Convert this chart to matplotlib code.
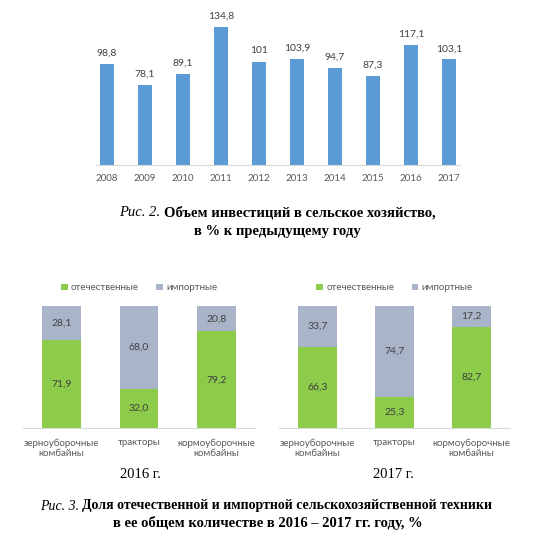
import matplotlib
matplotlib.use("Agg")
import matplotlib.pyplot as plt

years = ["2008", "2009", "2010", "2011", "2012", "2013", "2014", "2015", "2016", "2017"]
invest = [98.8, 78.1, 89.1, 134.8, 101, 103.9, 94.7, 87.3, 117.1, 103.1]
invest_labels = ["98,8", "78,1", "89,1", "134,8", "101", "103,9", "94,7", "87,3", "117,1", "103,1"]

machines = ["зерноуборочные\nкомбайны", "тракторы", "кормоуборочные\nкомбайны"]
dom_2016 = [71.9, 32.0, 79.2]
imp_2016 = [28.1, 68.0, 20.8]
dom_2017 = [66.3, 25.3, 82.7]
imp_2017 = [33.7, 74.7, 17.2]

blue = "#5B9BD5"
green = "#8DCB4A"
grey = "#A9B4C8"
axis_col = "#D9D9D9"
txt_col = "#404040"
sans = ["Lato", "DejaVu Sans"]
serif = ["Liberation Serif", "DejaVu Serif"]

fig = plt.figure(figsize=(5.4, 5.4), dpi=100)
W = H = 540.0


def box(left, top, right, bottom):
    return [left / W, 1 - bottom / H, (right - left) / W, (bottom - top) / H]


def clean(ax, pad):
    for s in ["top", "right", "left"]:
        ax.spines[s].set_visible(False)
    ax.spines["bottom"].set_color(axis_col)
    ax.tick_params(axis="x", length=0, colors="#595959", pad=pad)
    ax.set_yticks([])
    for t in ax.get_xticklabels():
        t.set_family(sans)


# top chart
ax1 = fig.add_axes(box(95.6, 11.4, 460.4, 165))
x = list(range(len(years)))
ax1.bar(x, invest, width=0.39, color=blue)
for i, v in enumerate(invest):
    ax1.text(i, v + 6, invest_labels[i], ha="center", va="bottom",
             fontsize=7.5, color=txt_col, family=sans)
ax1.set_xlim(-0.3, 9.3)
ax1.set_ylim(0, 150)
ax1.set_xticks(x)
ax1.set_xticklabels(years, fontsize=7)
clean(ax1, 6.5)


def stacked(ax, dom, imp):
    xs = list(range(len(machines)))
    ax.bar(xs, dom, width=0.5, color=green, label="отечественные")
    ax.bar(xs, imp, width=0.5, bottom=dom, color=grey, label="импортные")
    for i in xs:
        ax.text(i, dom[i] / 2, f"{dom[i]:.1f}".replace(".", ","), ha="center",
                va="center", fontsize=7.5, color=txt_col, family=sans)
        ax.text(i, dom[i] + imp[i] / 2, f"{imp[i]:.1f}".replace(".", ","),
                ha="center", va="center", fontsize=7.5, color=txt_col, family=sans)
    ax.set_xlim(-0.5, 2.5)
    ax.set_ylim(0, 100)
    ax.set_xticks(xs)
    ax.set_xticklabels(machines, fontsize=7, linespacing=1.25)
    clean(ax, 7.5)
    leg = ax.legend(loc="lower center", bbox_to_anchor=(0.5, 1.04), ncol=2,
                    frameon=False, fontsize=7, handlelength=0.7, handleheight=0.7,
                    handletextpad=0.3, columnspacing=1.8)
    for t in leg.get_texts():
        t.set_color("#595959")
        t.set_family(sans)


ax2 = fig.add_axes(box(23, 306, 255, 428))
stacked(ax2, dom_2016, imp_2016)
ax3 = fig.add_axes(box(279, 306, 510, 428))
stacked(ax3, dom_2017, imp_2017)

fig.text(140 / W, 1 - 474 / H, "2016 г.", ha="center", va="center",
         fontsize=10.5, family=serif)
fig.text(393 / W, 1 - 474 / H, "2017 г.", ha="center", va="center",
         fontsize=10.5, family=serif)


def caption(cx, y, italic, bold, size=10.5):
    fig.canvas.draw()
    r = fig.canvas.get_renderer()
    a = fig.text(0, 1 - y / H, italic, fontsize=size, style="italic",
                 family=serif, va="center")
    b = fig.text(0, 1 - y / H, bold, fontsize=size, weight="bold",
                 family=serif, va="center")
    wa = a.get_window_extent(r).width
    wb = b.get_window_extent(r).width
    left = cx - (wa + wb) / 2
    a.set_x(left / W)
    b.set_x((left + wa) / W)


caption(277, 213, "Рис. 2. ", "Объем инвестиций в сельское хозяйство,")
fig.text(277 / W, 1 - 232 / H, "в % к предыдущему году", ha="center",
         va="center", fontsize=10.5, weight="bold", family=serif)
caption(266, 506, "Рис. 3. ", "Доля отечественной и импортной сельскохозяйственной техники",
        size=10)
fig.text(268 / W, 1 - 523 / H, "в ее общем количестве в 2016 – 2017 гг. году, %",
         ha="center", va="center", fontsize=10.5, weight="bold", family=serif)

fig.savefig("out.png", dpi=100)
